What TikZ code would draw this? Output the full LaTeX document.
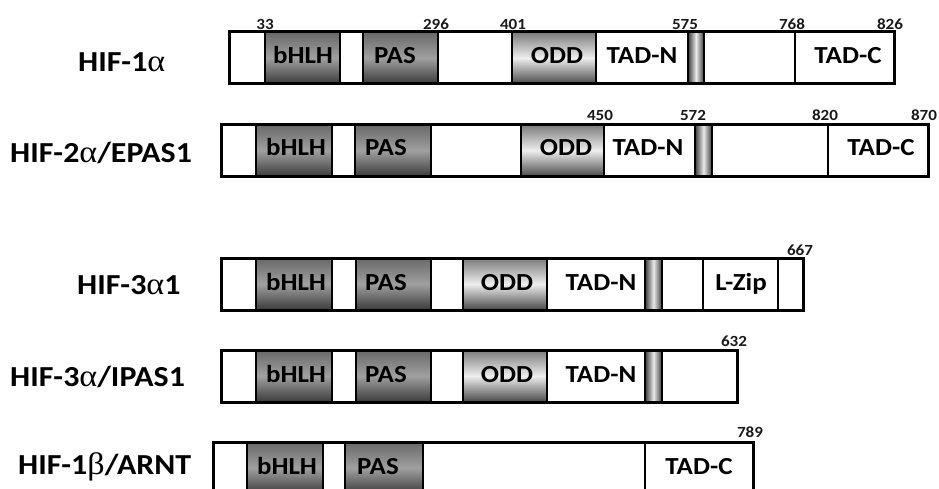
\documentclass[tikz,border=0pt]{standalone}
\usepackage{fontspec}
\setmainfont{Carlito}
\newfontfamily\grk{Liberation Serif}
\definecolor{dtop}{HTML}{686868}
\definecolor{dmid}{HTML}{A0A0A0}
\definecolor{dbot}{HTML}{3A3A3A}
\definecolor{otop}{HTML}{7A7A7A}
\definecolor{omid}{HTML}{EEEEEE}
\definecolor{obot}{HTML}{484848}
\definecolor{sedge}{HTML}{3A3A3A}
\definecolor{smid}{HTML}{EAEAEA}
\newcommand\hs[1]{\scalebox{1.1}[1]{#1}}
\newcommand\hm[1]{\scalebox{1.1}[1]{#1}}
\newcommand\ga{{\grk\mdseries\fontsize{31}{31}\selectfont α}}
\newcommand\gb{{\grk\mdseries\fontsize{31}{31}\selectfont β}}
\tikzset{
  segbox/.style={draw=black, line width=2.2pt, inner sep=0pt, minimum height=52pt, fill=white},
  wseg/.style={},
  dseg/.style={top color=dtop, bottom color=dbot, middle color=dmid},
  oseg/.style={top color=otop, bottom color=obot, middle color=omid},
  sseg/.style={left color=sedge, right color=sedge, middle color=smid},
  frame/.style={draw=black, line width=3pt, inner sep=0pt, minimum height=52pt},
  dom/.style={font=\fontsize{24.5}{24.5}\selectfont\bfseries, inner sep=0pt, anchor=base},
  num/.style={font=\fontsize{15.5}{15.5}\selectfont\bfseries, text=black!90, inner sep=0pt, anchor=base},
  prot/.style={font=\fontsize{29}{29}\selectfont\bfseries, inner sep=0pt, anchor=base west},
}
% name, x1, x2, ycenter, style
\newcommand\seg[5]{\node[segbox,#5,minimum width={(#3-#2)*1pt}] (#1) at ({(#2+#3)/2},#4) {};}
\newcommand\frm[4]{\node[frame,minimum width={(#3-#2)*1pt}] (#1) at ({(#2+#3)/2},#4) {};}
\begin{document}
\begin{tikzpicture}[x=1pt,y=-1pt]
\useasboundingbox (0,0) rectangle (939,489);
\clip (0,0) rectangle (939,489);
\fill[white] (0,0) rectangle (939,489);

% ---------- Row 1: HIF-1alpha ----------
\seg{a1}{229}{265}{58}{wseg}
\seg{a2}{265}{340}{58}{dseg}
\seg{a3}{340}{363}{58}{wseg}
\seg{a4}{363}{438}{58}{dseg}
\seg{a5}{438}{512}{58}{wseg}
\seg{a6}{512}{596}{58}{oseg}
\seg{a7}{596}{688}{58}{wseg}
\seg{a8}{688}{704}{58}{sseg}
\seg{a9}{704}{795}{58}{wseg}
\seg{a10}{795}{894}{58}{wseg}
\frm{af}{229}{894}{58}
\node[dom] (a2t) at (303,64) {\hs{bHLH}};
\node[dom] (a4t) at (395,64) {\hs{PAS}};
\node[dom] (a6t) at (557,64) {\hs{ODD}};
\node[dom] (a7t) at (642,64) {\hs{TAD-N}};
\node[dom] (a10t) at (848,64) {\hs{TAD-C}};
\node[num] (an1) at (265,30) {\hs{33}};
\node[num] (an2) at (436,30) {\hs{296}};
\node[num] (an3) at (513,30) {\hs{401}};
\node[num] (an4) at (685,30) {\hs{575}};
\node[num] (an5) at (792,30) {\hs{768}};
\node[num] (an6) at (890,30) {\hs{826}};
\node[prot] (al) at (78,72) {\hm{HIF-1\ga}};

% ---------- Row 2: HIF-2alpha/EPAS1 ----------
\seg{b1}{221}{256}{150.5}{wseg}
\seg{b2}{256}{332}{150.5}{dseg}
\seg{b3}{332}{355}{150.5}{wseg}
\seg{b4}{355}{431}{150.5}{dseg}
\seg{b5}{431}{521}{150.5}{wseg}
\seg{b6}{521}{604}{150.5}{oseg}
\seg{b7}{604}{695}{150.5}{wseg}
\seg{b8}{695}{712}{150.5}{sseg}
\seg{b9}{712}{828}{150.5}{wseg}
\seg{b10}{828}{928}{150.5}{wseg}
\frm{bf}{221}{928}{150.5}
\node[dom] (b2t) at (296,156) {\hs{bHLH}};
\node[dom] (b4t) at (386,156) {\hs{PAS}};
\node[dom] (b6t) at (566,156) {\hs{ODD}};
\node[dom] (b7t) at (648,156) {\hs{TAD-N}};
\node[dom] (b10t) at (881,156) {\hs{TAD-C}};
\node[num] (bn1) at (600,121) {\hs{450}};
\node[num] (bn2) at (693,121) {\hs{572}};
\node[num] (bn3) at (825,121) {\hs{820}};
\node[num] (bn4) at (924,121) {\hs{870}};
\node[prot] (bl) at (10,163) {\hm{HIF-2\ga/EPAS1}};

% ---------- Row 3: HIF-3alpha1 ----------
\seg{c1}{221}{256}{284}{wseg}
\seg{c2}{256}{332}{284}{dseg}
\seg{c3}{332}{356}{284}{wseg}
\seg{c4}{356}{431}{284}{dseg}
\seg{c5}{431}{463}{284}{wseg}
\seg{c6}{463}{547}{284}{oseg}
\seg{c7}{547}{645}{284}{wseg}
\seg{c8}{645}{662}{284}{sseg}
\seg{c9}{662}{703}{284}{wseg}
\seg{c10}{703}{778}{284}{wseg}
\seg{c11}{778}{803}{284}{wseg}
\frm{cf}{221}{803}{284}
\node[dom] (c2t) at (296,290) {\hs{bHLH}};
\node[dom] (c4t) at (386,290) {\hs{PAS}};
\node[dom] (c6t) at (507,290) {\hs{ODD}};
\node[dom] (c7t) at (601,290) {\hs{TAD-N}};
\node[dom] (c10t) at (741,290) {\hs{L-Zip}};
\node[num] (cn1) at (800,255) {\hs{667}};
\node[prot] (cl) at (77,294) {\hm{HIF-3\ga1}};

% ---------- Row 4: HIF-3alpha/IPAS1 ----------
\seg{d1}{221}{256}{376}{wseg}
\seg{d2}{256}{332}{376}{dseg}
\seg{d3}{332}{356}{376}{wseg}
\seg{d4}{356}{431}{376}{dseg}
\seg{d5}{431}{463}{376}{wseg}
\seg{d6}{463}{547}{376}{oseg}
\seg{d7}{547}{645}{376}{wseg}
\seg{d8}{645}{662}{376}{sseg}
\seg{d9}{662}{737}{376}{wseg}
\frm{df}{221}{737}{376}
\node[dom] (d2t) at (296,382) {\hs{bHLH}};
\node[dom] (d4t) at (386,382) {\hs{PAS}};
\node[dom] (d6t) at (507,382) {\hs{ODD}};
\node[dom] (d7t) at (601,382) {\hs{TAD-N}};
\node[num] (dn1) at (734,346) {\hs{632}};
\node[prot] (dl) at (10,386) {\hm{HIF-3\ga/IPAS1}};

% ---------- Row 5: HIF-1beta/ARNT ----------
\seg{e1}{213}{247}{468}{wseg}
\seg{e2}{247}{323}{468}{dseg}
\seg{e3}{323}{345}{468}{wseg}
\seg{e4}{345}{423}{468}{dseg}
\seg{e5}{423}{645}{468}{wseg}
\seg{e6}{645}{753}{468}{wseg}
\frm{ef}{213}{753}{468}
\node[dom] (e2t) at (287,474) {\hs{bHLH}};
\node[dom] (e4t) at (378,474) {\hs{PAS}};
\node[dom] (e6t) at (699,474) {\hs{TAD-C}};
\node[num] (en1) at (750,437) {\hs{789}};
\node[prot] (el) at (18,474) {\hm{HIF-1\gb/ARNT}};
\end{tikzpicture}
\end{document}
